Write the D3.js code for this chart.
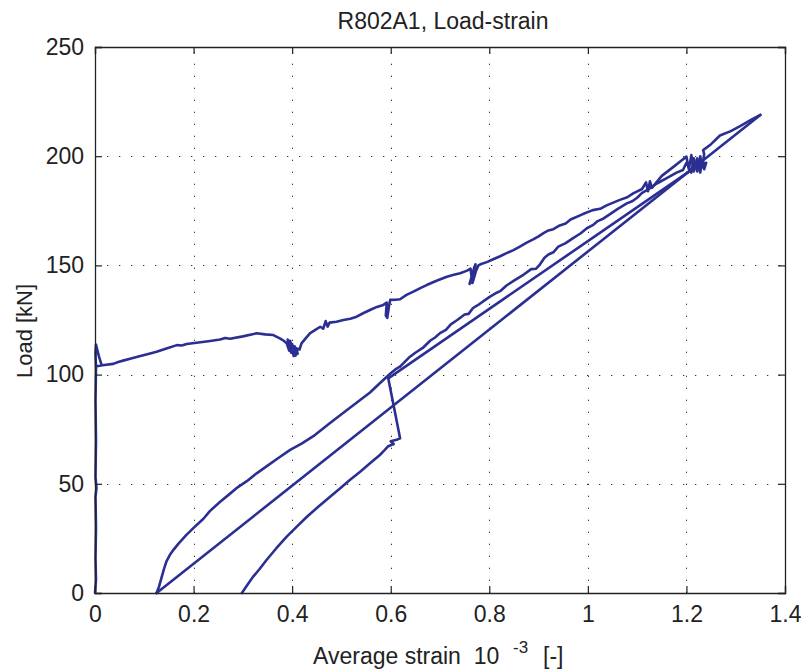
<!DOCTYPE html>
<html>
<head>
<meta charset="utf-8">
<script src="https://cdn.jsdelivr.net/npm/d3@7"></script>
<style>
  html, body { margin: 0; padding: 0; background: #fff; }
  svg { display: block; }
  text { font-family: "Liberation Sans", Arial, Helvetica, sans-serif; fill: #222; }
</style>
</head>
<body>
<svg id="chart" width="801" height="670"></svg>
<script>
// ---------------- DATA (strain 10^-3, load kN) ----------------
const titleText = "R802A1, Load-strain";
const xTicks = [0, 0.2, 0.4, 0.6, 0.8, 1, 1.2, 1.4];
const xTickLabels = ["0", "0.2", "0.4", "0.6", "0.8", "1", "1.2", "1.4"];
const yTicks = [0, 50, 100, 150, 200, 250];
const yTickLabels = ["0", "50", "100", "150", "200", "250"];

// initial loading (gauge near zero strain), then drop
const initialLoad = [
  [0,0],[0.002,6],[0.001,16],[0.002,30],[0.001,44],[0.003,48],[0.001,53],[0.002,70],
  [0.001,88],[0.002,103],[0.001,110],[0.002,113.8],[0.005,111],[0.009,107.5],[0.0136,104.3],
  [0.003,103.8],[0.015,104.3]
];
// first loading branch up to ~1.2
const upperCurve = [
  [0.015,104.3],[0.037,104.9],[0.047,105.8],[0.057,106.4],[0.075,107.5],[0.092,108.5],
  [0.11,109.6],[0.125,110.5],[0.145,112],[0.166,113.5],[0.176,113.3],[0.186,114],
  [0.206,114.6],[0.23,115.3],[0.254,116.1],[0.264,116.8],[0.274,116.4],[0.3,117.5],
  [0.328,118.9],[0.345,118.4],[0.362,118.1],[0.375,116.6],
  [0.383,115.5],[0.389,114.3],[0.394,111],[0.391,116],[0.398,110],[0.396,115.5],
  [0.403,108.5],[0.4,114],[0.407,108.7],[0.405,113],[0.411,109.5],[0.409,112],
  [0.415,111.5],[0.419,114.3],[0.427,116.5],[0.436,118.9],[0.447,120.5],[0.457,121.9],
  [0.463,121],[0.468,124.5],[0.472,122],[0.476,123.8],[0.49,124.2],[0.504,125],
  [0.518,125.6],[0.531,126.5],[0.545,128.2],[0.558,129.6],[0.572,131],[0.585,131.9],
  [0.592,133],[0.59,127],[0.593,126],[0.597,132],[0.599,134.2],[0.61,134.3],
  [0.619,134.5],[0.632,136.5],[0.646,138],[0.66,139.6],[0.673,141],[0.693,143],
  [0.714,144.8],[0.728,145.7],[0.741,146.4],[0.755,147.6],[0.762,148.5],[0.765,143],
  [0.76,141.5],[0.77,149.5],[0.763,144],[0.772,150.5],[0.766,142],[0.775,149],
  [0.768,145],[0.778,150],[0.782,150.5],[0.795,151.5],[0.808,152.8],[0.822,154.2],
  [0.835,155.6],[0.849,157],[0.862,158.6],[0.876,160.4],[0.89,162],[0.9,163.3],
  [0.91,164.8],[0.92,166],[0.93,166.6],[0.943,168.3],[0.955,169.2],[0.965,171],
  [0.99,173.5],[1.01,175.3],[1.025,175.9],[1.038,177.5],[1.065,180],[1.08,181.2],
  [1.092,183],[1.11,185],[1.118,188],[1.122,184],[1.126,188.5],
  [1.13,185.5],[1.15,191],[1.173,195],[1.19,198],[1.2,199.8],[1.205,194],
  [1.21,200.5],[1.215,193],[1.222,199],[1.228,192.5],[1.232,198],[1.236,194],
  [1.24,197],[1.225,196]
];
// unloading: straight gap to (0.595, 98), drop, then unloading curve to zero load
const unloadCurve = [
  [1.225,196],[0.595,98.3],[0.619,70.8],[0.612,70.2],[0.6,69.5],[0.606,68.2],
  [0.595,67.2],[0.588,65.5],[0.578,63.2],[0.558,59.4],[0.538,55.5],[0.517,51.7],
  [0.497,47.9],[0.477,44.1],[0.453,39.5],[0.43,34.9],[0.41,30.5],[0.389,25.8],
  [0.368,20.5],[0.348,15.1],[0.334,11],[0.321,7.5],[0.31,4],[0.298,0]
];
// reloading branch from residual strain up to the peak
const reloadCurve = [
  [0.125,0],[0.13,3],[0.135,7],[0.14,11],[0.145,14.5],[0.152,17.5],[0.16,20],
  [0.169,22.5],[0.185,26.5],[0.2,29.8],[0.22,34],[0.233,37.5],[0.254,41.8],
  [0.274,45.5],[0.29,48.5],[0.308,51.2],[0.328,54.8],[0.348,58],[0.372,61.8],
  [0.396,65.5],[0.42,68.5],[0.443,71.8],[0.475,77.5],[0.504,82.5],[0.53,87],
  [0.558,91.8],[0.58,96.5],[0.6,100.6],[0.61,102.5],[0.618,103.5],[0.625,105],
  [0.637,107.8],[0.65,110],[0.665,112.2],[0.68,115.5],[0.69,117],[0.7,119],
  [0.712,120.5],[0.722,123],[0.735,125],[0.75,127.5],[0.758,127.8],[0.767,130.5],
  [0.78,132.3],[0.8,135.5],[0.815,137.5],[0.822,138.2],[0.835,140.8],[0.85,143],
  [0.87,145.8],[0.885,148.3],[0.895,148.5],[0.903,150.5],[0.912,153.5],[0.92,155],
  [0.93,156],[0.94,158.6],[0.955,160.2],[0.97,162.5],[0.985,164.6],[0.998,167],
  [1.01,168.4],[1.02,170.3],[1.032,171.5],[1.045,173.5],[1.06,175.8],[1.079,178.4],
  [1.09,179.4],[1.1,181],[1.11,183.2],[1.12,184.5],[1.14,187.5],[1.16,190],
  [1.18,192.5],[1.193,193.7],[1.2,197],[1.21,192.5],[1.215,199],[1.222,193],
  [1.228,200],[1.232,195],[1.236,201],[1.234,202.8],[1.25,205.5],[1.268,209.5],
  [1.29,211.5],[1.309,213.8],[1.33,216.5],[1.35,218.9]
];
// final unloading (straight gap) back to residual strain
const finalUnload = [[1.35,218.9],[0.125,0]];

// ---------------- DRAW ----------------
const svg = d3.select("#chart");
const L = 95, R = 785, T = 47, B = 593;
const x = d3.scaleLinear().domain([0, 1.4]).range([L, R]);
const y = d3.scaleLinear().domain([0, 250]).range([B, T]);

// grid
const grid = svg.append("g").attr("stroke", "#333").attr("stroke-width", 1)
  .attr("stroke-dasharray", "1.3,10.7");
grid.selectAll(".gx").data(xTicks.slice(1, -1)).enter().append("line")
  .attr("x1", d => Math.round(x(d)) + 0.5).attr("x2", d => Math.round(x(d)) + 0.5)
  .attr("y1", B).attr("y2", T);
grid.selectAll(".gy").data(yTicks.slice(1, -1)).enter().append("line")
  .attr("y1", d => Math.round(y(d)) + 0.5).attr("y2", d => Math.round(y(d)) + 0.5)
  .attr("x1", L).attr("x2", R);

// data lines
const line = d3.line().x(d => x(d[0])).y(d => y(d[1]));
const segments = [initialLoad.concat(upperCurve), unloadCurve, reloadCurve, finalUnload];
svg.append("g").selectAll("path").data(segments).enter().append("path")
  .attr("d", line)
  .attr("fill", "none")
  .attr("stroke", "#2b2f91")
  .attr("stroke-width", 2.6)
  .attr("stroke-linejoin", "round")
  .attr("stroke-linecap", "round");

// axes (inward ticks, box)
const fmtX = (d, i) => xTickLabels[i];
const fmtY = (d, i) => yTickLabels[i];
const axB = svg.append("g").attr("transform", `translate(0,${B})`)
  .call(d3.axisBottom(x).tickValues(xTicks).tickFormat(fmtX).tickSize(-7).tickPadding(11));
const axT = svg.append("g").attr("transform", `translate(0,${T})`)
  .call(d3.axisTop(x).tickValues(xTicks).tickFormat("").tickSize(-7));
const axL = svg.append("g").attr("transform", `translate(${L},0)`)
  .call(d3.axisLeft(y).tickValues(yTicks).tickFormat(fmtY).tickSize(-7).tickPadding(11));
const axRt = svg.append("g").attr("transform", `translate(${R},0)`)
  .call(d3.axisRight(y).tickValues(yTicks).tickFormat("").tickSize(-7));
[axB, axT, axL, axRt].forEach(g => {
  g.selectAll("path.domain").attr("stroke", "#222").attr("stroke-width", 1.3);
  g.selectAll(".tick line").attr("stroke", "#222").attr("stroke-width", 1.2);
  g.selectAll("text").attr("font-size", 23).attr("fill", "#222")
    .attr("font-family", "Liberation Sans, Arial, sans-serif");
});
axB.selectAll("text").attr("dy", "0.78em");

// title
svg.append("text").attr("x", 443).attr("y", 29).attr("text-anchor", "middle")
  .attr("font-size", 23).text(titleText);

// y label
svg.append("text").attr("transform", "translate(32,331) rotate(-90)")
  .attr("text-anchor", "middle").attr("font-size", 22).text("Load [kN]");

// x label with superscript
const xl = svg.append("text").attr("x", 313).attr("y", 664).attr("font-size", 23)
  .style("white-space", "pre");
xl.append("tspan").text("Average strain  10");
xl.append("tspan").attr("x", 513).attr("dy", -11).attr("font-size", 17).text("-3");
xl.append("tspan").attr("x", 543).attr("dy", 11).attr("font-size", 23).text("[-]");
</script>
</body>
</html>
